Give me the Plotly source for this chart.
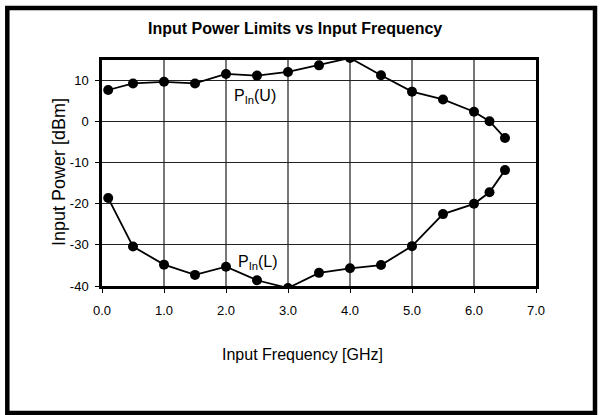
import plotly.graph_objects as go

# frequencies [GHz]
freq = [0.1, 0.5, 1.0, 1.5, 2.0, 2.5, 3.0, 3.5, 4.0, 4.5, 5.0, 5.5, 6.0, 6.25, 6.5]
# upper limit P_In(U) [dBm]
p_upper = [7.7, 9.3, 9.7, 9.3, 11.6, 11.2, 12.1, 13.7, 15.5, 11.3, 7.3, 5.4, 2.4, 0.1, -4.0]
# lower limit P_In(L) [dBm]
p_lower = [-18.6, -30.4, -34.8, -37.3, -35.3, -38.6, -40.5, -36.8, -35.7, -34.9, -30.3, -22.5, -20.0, -17.2, -11.8]

x_ticks = [0, 1, 2, 3, 4, 5, 6, 7]
x_labels = ["0.0", "1.0", "2.0", "3.0", "4.0", "5.0", "6.0", "7.0"]
y_ticks = [-40, -30, -20, -10, 0, 10]
y_labels = ["-40", "-30", "-20", "-10", "0", "10"]

FONT = "Liberation Sans, Arial, sans-serif"
W, H = 601, 415
L, R, T, B = 102, 65, 60, 129
PW, PH = W - L - R, H - T - B


def px(x):
    return (x - L) / PW


def py(y):
    return (H - B - y) / PH


fig = go.Figure()
for ys in (p_upper, p_lower):
    fig.add_trace(go.Scatter(x=freq, y=ys, mode="lines+markers",
                             line=dict(color="black", width=1.8),
                             marker=dict(color="black", size=10),
                             cliponaxis=True, showlegend=False, hoverinfo="skip"))

fig.add_annotation(x=2.47, y=6.2, text="P<sub>In</sub>(U)", showarrow=False,
                   font=dict(size=16, color="black", family=FONT))
fig.add_annotation(x=2.51, y=-34.3, text="P<sub>In</sub>(L)", showarrow=False,
                   font=dict(size=16, color="black", family=FONT))

# chart title and axis titles
fig.add_annotation(xref="paper", yref="paper", x=px(295), y=py(29), yanchor="middle",
                   text="<b>Input Power Limits vs Input Frequency</b>",
                   showarrow=False, font=dict(size=16, color="black", family=FONT))
fig.add_annotation(xref="paper", yref="paper", x=px(302), y=py(354), yanchor="middle",
                   text="Input Frequency [GHz]",
                   showarrow=False, font=dict(size=16, color="black", family=FONT))
fig.add_annotation(xref="paper", yref="paper", x=px(59), y=py(172), xanchor="center",
                   yanchor="middle", textangle=-90, text="Input Power [dBm]",
                   showarrow=False, font=dict(size=18, color="black", family=FONT))

# outer frame
fig.add_shape(type="rect", xref="paper", yref="paper",
              x0=px(7.3), x1=px(595), y0=py(413), y1=py(8),
              line=dict(color="black", width=4.5))

fig.update_layout(
    width=W, height=H,
    margin=dict(l=L, r=R, t=T, b=B),
    paper_bgcolor="white", plot_bgcolor="white",
    font=dict(family=FONT, size=13, color="black"),
    xaxis=dict(range=[0, 7], tickvals=x_ticks, ticktext=x_labels,
               showgrid=True, gridcolor="#777", gridwidth=1.5,
               showline=True, linecolor="black", linewidth=2.5, mirror=True,
               ticks="outside", ticklen=4, tickcolor="black",
               ticklabelstandoff=7, zeroline=False),
    yaxis=dict(range=[-40, 15], tickvals=y_ticks, ticktext=y_labels,
               showgrid=True, gridcolor="#222", gridwidth=1,
               showline=True, linecolor="black", linewidth=2.5, mirror=True,
               ticks="outside", ticklen=4, tickcolor="black",
               ticklabelstandoff=4, zeroline=False),
)

fig.write_html("out.html", config={"displayModeBar": False},
               post_script="document.body.style.margin='0';"
                           "document.body.style.overflow='hidden';")
